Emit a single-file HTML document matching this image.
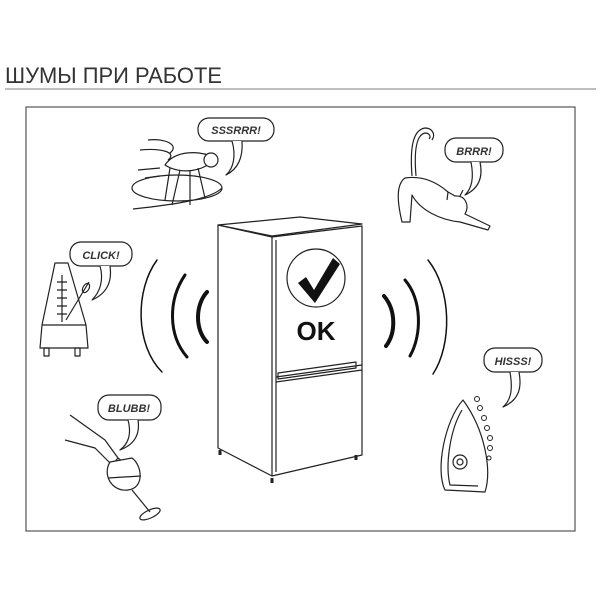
<!DOCTYPE html>
<html><head><meta charset="utf-8"><style>
html,body{margin:0;padding:0;background:#fff;width:600px;height:600px;overflow:hidden}
svg{display:block}
text{font-family:"Liberation Sans",sans-serif}
.b{font-weight:bold;font-style:italic;font-size:11px;fill:#333}
.w{fill:#ffffff !important}
.n{fill:none}
</style></head><body>
<svg width="600" height="600" viewBox="0 0 600 600" xmlns="http://www.w3.org/2000/svg">
<text x="5" y="83" font-size="22" fill="#333" textLength="217" lengthAdjust="spacingAndGlyphs">ШУМЫ ПРИ РАБОТЕ</text>
<line x1="5" y1="89" x2="596" y2="89" stroke="#aaa" stroke-width="1.5"/>
<rect x="26" y="107" width="549" height="424" fill="none" stroke="#555" stroke-width="1.2"/>

<g stroke="#222" stroke-width="1.2" stroke-linejoin="round" fill="none">
<!-- bubbles -->
<rect class="w" x="198" y="118" width="76" height="23" rx="11"/>
<path class="w" d="M232,141 C236,155 234,168 226,175 C240,168 243,155 242,141"/>
<rect class="w" x="70" y="242" width="62" height="24" rx="11"/>
<path class="w" d="M100,266 C104,280 100,292 92,300 C108,293 112,280 110,266"/>
<rect class="w" x="445" y="138" width="58" height="24" rx="11"/>
<path class="w" d="M471,162 C474,178 472,188 465,195 C480,188 483,176 480,162"/>
<rect class="w" x="484" y="348" width="58" height="24" rx="11"/>
<path class="w" d="M510,372 C513,390 511,400 503,407 C519,400 522,388 519,372"/>
<rect class="w" x="98" y="395" width="63" height="25" rx="11"/>
<path class="w" d="M128,420 C132,435 128,444 120,450 C136,444 140,433 138,420"/>

<!-- fly -->
<ellipse class="n" cx="177" cy="188" rx="45" ry="13"/>
<path class="n" d="M133,209 C170,205 210,200 222,188"/>
<path class="w" d="M165,165 C175,150 200,150 215,158 C205,172 180,175 165,165 Z"/>
<circle class="w" cx="211" cy="160" r="7"/>
<path class="n" d="M148,140 C165,138 180,145 170,153 M140,150 C160,148 178,152 168,160 M138,170 L160,168 M145,178 L160,176"/>
<path class="n" d="M170,168 L165,200 M180,170 L172,205 M190,170 L190,205 M198,168 L205,198"/>
<!-- metronome -->
<path class="w" d="M55,263 L68,263 L86,325 L88,348 L40,348 L42,325 Z"/>
<line x1="42" y1="325" x2="86" y2="325"/>
<rect class="n" x="44" y="348" width="5" height="8"/><rect class="n" x="75" y="348" width="5" height="8"/>
<line x1="62" y1="275" x2="62" y2="322"/>
<path class="n" d="M57,282h10M57,290h10M57,298h10M57,306h10M57,314h10"/>
<line x1="66" y1="320" x2="89" y2="282"/>
<ellipse class="n" cx="86" cy="288" rx="3" ry="5" transform="rotate(30 86 288)"/>
<!-- cat -->
<path class="n" d="M412,176 C410,150 412,130 425,128 C432,128 436,134 432,140 M416,176 C414,152 416,135 425,133 C430,133 431,137 429,139"/>
<path class="w" d="M405,178 C395,185 398,205 402,222 L410,222 L412,195 C420,210 440,220 460,222 L488,230 L490,226 L465,214 C470,205 465,195 455,196 L448,192 C440,185 425,175 405,178 Z"/>
<path class="n" d="M448,192 L447,200 M460,196 L463,190"/>
<!-- wine -->
<path class="n" d="M70,415 L105,440 L118,458 M65,440 L95,448 L112,465"/>
<path class="w" d="M112,465 L118,458 L123,462 L118,470 Z"/>
<path class="w" d="M110,462 C102,475 112,492 128,490 C145,488 142,465 132,458 Z"/>
<line x1="108" y1="478" x2="141" y2="476"/>
<line x1="132" y1="490" x2="150" y2="512"/>
<ellipse class="n" cx="150" cy="514" rx="11" ry="4" transform="rotate(-25 150 514)"/>
<!-- iron -->
<path class="w" d="M463,400 C445,420 435,470 445,490 L485,492 C492,470 485,430 463,400 Z"/>
<path class="n" d="M462,410 C450,430 445,465 450,485 L478,486"/>
<circle class="n" cx="460" cy="462" r="7"/><circle class="n" cx="460" cy="462" r="3"/>
<g stroke-width="1"><circle class="n" cx="477" cy="399" r="2.5"/><circle class="n" cx="480" cy="408" r="2.5"/><circle class="n" cx="484" cy="418" r="2.5"/><circle class="n" cx="487" cy="428" r="2.5"/><circle class="n" cx="490" cy="438" r="2.5"/><circle class="n" cx="490" cy="448" r="2.5"/><circle class="n" cx="489" cy="458" r="2"/></g>

<!-- fridge -->
<path class="w" d="M218,225 L218,448 L272,476 L272,237 Z"/>
<path class="w" d="M218,225 L300,217 L362,224 L272,236 Z"/>
<path class="n" d="M272,237 L362,226 L362,455 L272,476"/>
<line x1="276" y1="240" x2="276" y2="472"/>
<path class="n" d="M276,377 L362,365 M276,382 L362,370 M278,373 L356,362 L356,368 L278,379 Z"/>
<circle class="n" cx="316" cy="278" r="29"/>
<path class="n" d="M220,450v5M272,478v5M356,455v5" stroke-width="3"/>
</g>
<path d="M298,283 L306,277 L314,290 L333,258 L340,264 L315,303 Z" fill="#111"/>
<text x="316" y="340" font-size="26" font-weight="bold" text-anchor="middle" fill="#111">OK</text>

<!-- sound arcs -->
<g fill="none" stroke="#111" stroke-linecap="round">
<path d="M207,292 C195,305 195,330 207,342" stroke-width="4"/>
<path d="M185,275 C168,300 168,335 187,357" stroke-width="3"/>
<path d="M157,260 C135,290 135,345 162,372" stroke-width="1.5"/>
<path d="M384,296 C396,310 396,333 386,346" stroke-width="4"/>
<path d="M405,280 C422,300 422,335 410,356" stroke-width="3"/>
<path d="M428,260 C452,290 452,345 433,374" stroke-width="1.5"/>
</g>

<text class="b" x="236" y="134" text-anchor="middle">SSSRRR!</text>
<text class="b" x="101" y="259" text-anchor="middle">CLICK!</text>
<text class="b" x="474" y="155" text-anchor="middle">BRRR!</text>
<text class="b" x="513" y="365" text-anchor="middle">HISSS!</text>
<text class="b" x="129" y="412" text-anchor="middle">BLUBB!</text>
</svg>
</body></html>
